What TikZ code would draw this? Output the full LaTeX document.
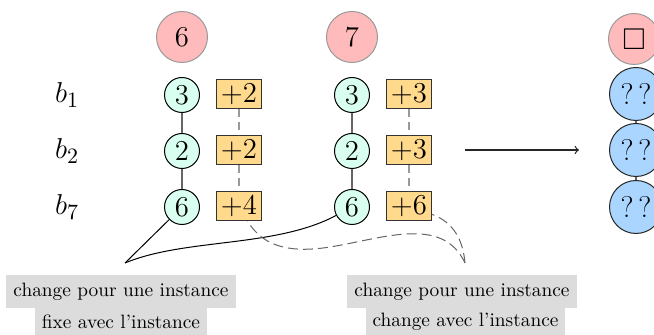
\documentclass[tikz,border=0pt]{standalone}
\usepackage{amssymb}
\definecolor{mintc}{HTML}{D9FFF1}
\definecolor{pinkc}{HTML}{FFBBBB}
\definecolor{boxc}{HTML}{FFD98C}
\definecolor{bluec}{HTML}{A9D5FF}
\definecolor{notec}{HTML}{DCDCDC}
\newcommand\nodefont{\fontsize{15}{18}\selectfont}
\newcommand\notefont{\fontsize{9.67}{11.6}\selectfont}
\begin{document}
\begin{tikzpicture}[x=0.5pt,y=-0.5pt,
  numc/.style={circle,draw=black,fill=mintc,minimum size=17.5pt,inner sep=0pt,font=\nodefont,line width=0.5pt},
  headc/.style={circle,draw=black!40,fill=pinkc,minimum size=25.5pt,inner sep=0pt,font=\nodefont,line width=0.5pt},
  incrbox/.style={rectangle,draw=black!80,fill=boxc,minimum width=22.5pt,minimum height=14.5pt,inner sep=0pt,font=\nodefont,line width=0.5pt},
  unkc/.style={circle,draw=black!85,fill=bluec,minimum size=26.5pt,inner sep=0pt,font=\nodefont,line width=0.5pt},
  rowlab/.style={font=\nodefont,inner sep=0pt},
  notebox/.style={fill=notec,inner xsep=3.5pt,inner ysep=0pt,font=\notefont},
  solidlink/.style={draw=black!60,line width=0.6pt},
  dashlink/.style={draw=black!40,line width=0.6pt,dash pattern=on 4pt off 2.5pt},
  bracel/.style={draw=black,line width=0.5pt},
  dbracel/.style={draw=black!60,line width=0.5pt,dash pattern=on 5pt off 2.5pt},
]
\useasboundingbox (0,0) rectangle (654,335);

% row labels
\node[rowlab] (l1) at (67,95) {$b_1$};
\node[rowlab] (l2) at (67,151) {$b_2$};
\node[rowlab] (l3) at (67,207) {$b_7$};

% column 1
\node[headc] (h1) at (182,37) {$6$};
\node[numc] (c11) at (182,95) {$3$};
\node[numc] (c12) at (182,151) {$2$};
\node[numc] (c13) at (182,207) {$6$};
\node[incrbox] (b11) at (239,94) {$+2$};
\node[incrbox] (b12) at (239,150) {$+2$};
\node[incrbox] (b13) at (239,206) {$+4$};

% column 2
\node[headc] (h2) at (352,37) {$7$};
\node[numc] (c21) at (352,95) {$3$};
\node[numc] (c22) at (352,151) {$2$};
\node[numc] (c23) at (352,207) {$6$};
\node[incrbox] (b21) at (409,94) {$+3$};
\node[incrbox] (b22) at (409,150) {$+3$};
\node[incrbox] (b23) at (409,206) {$+6$};

% column 3
\node[headc] (h3) at (634,39) {$\square$};
\node[unkc] (u1) at (636,94) {?\,?};
\node[unkc] (u2) at (636,150) {?\,?};
\node[unkc] (u3) at (636,207) {?\,?};

% vertical links
\draw[solidlink] (c11) -- (c12);
\draw[solidlink] (c12) -- (c13);
\draw[solidlink] (c21) -- (c22);
\draw[solidlink] (c22) -- (c23);
\draw[dashlink] (b11) -- (b12);
\draw[dashlink] (b12) -- (b13);
\draw[dashlink] (b21) -- (b22);
\draw[dashlink] (b22) -- (b23);
\draw[solidlink] (u1) -- (u2);
\draw[solidlink] (u2) -- (u3);

% arrow
\coordinate (ar1) at (465,150);
\coordinate (ar2) at (579,150);
\draw[->,draw=black!85,line width=0.6pt] (ar1) -- (ar2);

% braces
\coordinate (p1) at (125,263);
\coordinate (p2) at (465,263);
\coordinate (m2) at (330,247);
\draw[bracel] (p1) -- (c13);
\draw[bracel] (p1) .. controls (185,238) and (275,248) .. (c23);
\draw[dbracel] (p2) to[out=115,in=9] (m2) to[out=189,in=-60] (b13);
\draw[dbracel] (p2) to[out=95,in=-20] (b23);

% notes
\node[notebox,minimum height=16.5pt] (n11) at (121,291.5) {change pour une instance};
\node[notebox,minimum height=14pt] (n12) at (121,322) {fixe avec l'instance};
\node[notebox,minimum height=16.5pt] (n21) at (462,291.5) {change pour une instance};
\node[notebox,minimum height=14pt] (n22) at (465.5,322) {change avec l'instance};
\end{tikzpicture}
\end{document}
